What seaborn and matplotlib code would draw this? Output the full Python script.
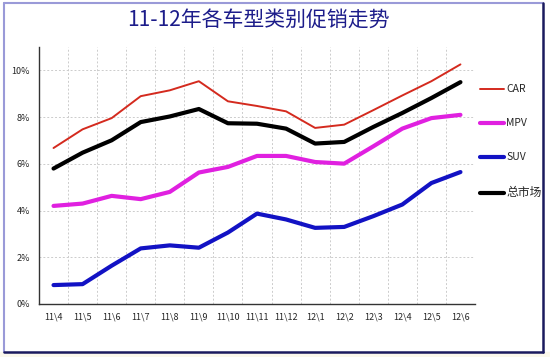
import seaborn as sns
import numpy as np
import pandas as pd
import matplotlib.pyplot as plt
from matplotlib.lines import Line2D
from matplotlib.patches import Rectangle
from matplotlib.ticker import FixedLocator, PercentFormatter

months = ["11\\4", "11\\5", "11\\6", "11\\7", "11\\8", "11\\9", "11\\10", "11\\11",
          "11\\12", "12\\1", "12\\2", "12\\3", "12\\4", "12\\5", "12\\6"]
car = [6.68, 7.48, 7.96, 8.90, 9.15, 9.54, 8.68, 8.48, 8.25, 7.54, 7.68, 8.30, 8.93, 9.54, 10.26]
mpv = [4.20, 4.30, 4.63, 4.49, 4.80, 5.63, 5.87, 6.34, 6.34, 6.08, 6.01, 6.75, 7.51, 7.96, 8.10]
suv = [0.81, 0.85, 1.64, 2.38, 2.51, 2.41, 3.06, 3.87, 3.62, 3.26, 3.30, 3.76, 4.26, 5.18, 5.65]
total = [5.80, 6.48, 7.01, 7.79, 8.03, 8.35, 7.74, 7.72, 7.51, 6.87, 6.94, 7.58, 8.18, 8.82, 9.50]

series = ["CAR", "MPV", "SUV", "总市场"]
colors = {"CAR": "#d42a1e", "MPV": "#e020e0", "SUV": "#1212c4", "总市场": "#000000"}
widths = {"CAR": 1.4, "MPV": 3.0, "SUV": 3.0, "总市场": 3.0}

df = pd.DataFrame({"month": months * 4,
                   "rate": car + mpv + suv + total,
                   "type": np.repeat(series, len(months))})

sns.set_style("white")
plt.rcParams["font.family"] = ["Noto Sans CJK SC", "DejaVu Sans"]

fig = plt.figure(figsize=(5.5, 3.57), dpi=100)
ax = fig.add_axes([0.0709, 0.1485, 0.7927, 0.7195])

for name in series:
    sns.lineplot(data=df[df["type"] == name], x="month", y="rate", color=colors[name],
                 lw=widths[name], label=name, ax=ax)

ax.set_xlim(-0.5, len(months) - 0.5)
ax.set_ylim(0, 11)
ax.set_xlabel("")
ax.set_ylabel("")
ax.yaxis.set_major_locator(FixedLocator([0, 2, 4, 6, 8, 10]))
ax.yaxis.set_major_formatter(PercentFormatter(decimals=0))
ax.xaxis.set_minor_locator(FixedLocator(np.arange(-0.5, len(months), 1.0)))
ax.tick_params(axis="x", which="major", length=0, labelsize=6.5, pad=6)
ax.tick_params(axis="x", which="minor", length=3, direction="in", color="#333333")
ax.tick_params(axis="y", which="major", length=3, direction="inout", labelsize=6.5,
               color="#333333", pad=5)
ax.grid(False)
ax.grid(axis="y", which="major", color="#cccccc", ls=(0, (2, 2)), lw=0.7)
ax.grid(axis="x", which="minor", color="#cccccc", ls=(0, (2, 2)), lw=0.7)
for s in ["top", "right"]:
    ax.spines[s].set_visible(False)
for s in ["left", "bottom"]:
    ax.spines[s].set_color("#333333")
    ax.spines[s].set_linewidth(1.0)

sns.move_legend(ax, "upper left", bbox_to_anchor=(1.0, 0.875), frameon=False,
                fontsize=7.5, handlelength=2.3, handletextpad=0.2, labelspacing=2.3,
                borderaxespad=0.1)
ax.get_legend().get_texts()[-1].set_fontsize(8.5)

fig.text(0.47, 0.945, "11-12年各车型类别促销走势", ha="center", va="center",
         fontsize=15, color="#1c1c8a")

# frame around the picture
fig.add_artist(Rectangle((0, 0), 1, 5 / 357, transform=fig.transFigure,
                         color="#fbf8ec", zorder=0))
x0, x1 = 4 / 550, 543 / 550
y0, y1 = 1 - 352 / 357, 1 - 3 / 357
fig.add_artist(Line2D([x0, x0], [y0, y1], transform=fig.transFigure, color="#9a9ad8", lw=1.5))
fig.add_artist(Line2D([x0, x1], [y1, y1], transform=fig.transFigure, color="#9a9ad8", lw=1.5))
fig.add_artist(Line2D([x1, x1], [y0, y1], transform=fig.transFigure, color="#1a1a5e", lw=1.8))
fig.add_artist(Line2D([x0, x1], [y0, y0], transform=fig.transFigure, color="#1a1a5e", lw=1.8))

fig.savefig("out.png", dpi=100)
